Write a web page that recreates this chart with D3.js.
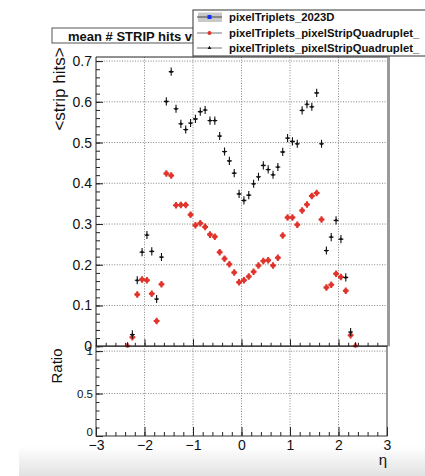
<!DOCTYPE html>
<html>
<head>
<meta charset="utf-8">
<script src="https://cdn.jsdelivr.net/npm/d3@7"></script>
<style>
  body { margin: 0; background: #fff; }
  svg { display: block; }
  text { font-family: "Liberation Sans", Arial, Helvetica, sans-serif; fill: #111; }
</style>
</head>
<body>
<svg id="chart" width="425" height="476"></svg>
<script>
// eta bin centres (bin width 0.1)
const etaBins = [-2.35, -2.25, -2.15, -2.05, -1.95, -1.85, -1.75, -1.65, -1.55, -1.45,
  -1.35, -1.25, -1.15, -1.05, -0.95, -0.85, -0.75, -0.65, -0.55, -0.45,
  -0.35, -0.25, -0.15, -0.05, 0.05, 0.15, 0.25, 0.35, 0.45, 0.55,
  0.65, 0.75, 0.85, 0.95, 1.05, 1.15, 1.25, 1.35, 1.45, 1.55,
  1.65, 1.75, 1.85, 1.95, 2.05, 2.15, 2.25, 2.35];

// mean number of strip hits per bin (red series)
const quadRed = [0.0, 0.022, 0.127, 0.164, 0.162, 0.129, 0.062, 0.152, 0.424, 0.419,
  0.346, 0.347, 0.347, 0.323, 0.297, 0.302, 0.293, 0.274, 0.269, 0.231,
  0.215, 0.201, 0.181, 0.157, 0.162, 0.171, 0.183, 0.198, 0.209, 0.211,
  0.198, 0.217, 0.272, 0.316, 0.316, 0.298, 0.333, 0.348, 0.369, 0.376,
  0.311, 0.144, 0.151, 0.178, 0.170, 0.136, 0.027, 0.0];

// mean number of strip hits per bin (black series)
const quadBlack = [0.0, 0.029, 0.162, 0.231, 0.273, 0.233, 0.116, 0.219, 0.601, 0.674,
  0.583, 0.546, 0.532, 0.548, 0.558, 0.576, 0.580, 0.554, 0.554, 0.516,
  0.478, 0.455, 0.425, 0.374, 0.358, 0.371, 0.399, 0.416, 0.444, 0.434,
  0.421, 0.440, 0.477, 0.511, 0.503, 0.497, 0.579, 0.594, 0.588, 0.622,
  0.497, 0.235, 0.268, 0.309, 0.263, 0.169, 0.035, 0.0];

const redErr = 0.008;
const blackErr = 0.010;
const binHalfWidth = 0.05;

const legendLabels = ["pixelTriplets_2023D",
  "pixelTriplets_pixelStripQuadruplet_",
  "pixelTriplets_pixelStripQuadruplet_"];
const titleText = "mean # STRIP hits vs \u03b7";
const xTicks = [-3, -2, -1, 0, 1, 2, 3];
const xTickLabels = ["\u22123", "\u22122", "\u22121", "0", "1", "2", "3"];
const yTicksTop = [0, 0.1, 0.2, 0.3, 0.4, 0.5, 0.6, 0.7];
const yTickLabelsTop = ["0", "0.1", "0.2", "0.3", "0.4", "0.5", "0.6", "0.7"];
const yTicksRatio = [0, 0.5, 1];
const yTickLabelsRatio = ["0", "0.5", "1"];

const svg = d3.select("#chart");
const L = 96, R = 387;
const topY0 = 57, topY1 = 346.25, ratY0 = 346, ratY1 = 436;

const x = d3.scaleLinear().domain([-3, 3]).range([L, R]);
const yTop = d3.scaleLinear().domain([0, 0.71]).range([topY1, topY0]);
const yRat = d3.scaleLinear().domain([0, 1.06]).range([ratY1, ratY0]);

const xMinor = d3.range(-3, 3.001, 0.2).map(v => +v.toFixed(2));
const yMinorTop = d3.range(0, 0.711, 0.02).map(v => +v.toFixed(3));
const yMinorRat = d3.range(0, 1.061, 0.1).map(v => +v.toFixed(2));

// bottom grey band
const defs = svg.append("defs");
const grad = defs.append("linearGradient").attr("id", "band").attr("x1", 0).attr("x2", 0).attr("y1", 0).attr("y2", 1);
grad.append("stop").attr("offset", "0%").attr("stop-color", "#ffffff");
grad.append("stop").attr("offset", "100%").attr("stop-color", "#e2e2e2");
svg.append("rect").attr("x", 19).attr("y", 446).attr("width", 406).attr("height", 30).attr("fill", "url(#band)");

defs.append("clipPath").attr("id", "clipTop").append("rect")
  .attr("x", L).attr("y", topY0).attr("width", R - L).attr("height", topY1 - topY0 + 1);

function grid(g, xs, ys, yScale, yA, yB) {
  g.selectAll(".gv").data(xs).join("line")
    .attr("x1", d => x(d)).attr("x2", d => x(d)).attr("y1", yA).attr("y2", yB)
    .attr("stroke", "#777").attr("stroke-width", 0.9).attr("stroke-dasharray", "1,1.6");
  g.selectAll(".gh").data(ys).join("line")
    .attr("x1", L).attr("x2", R).attr("y1", d => yScale(d)).attr("y2", d => yScale(d))
    .attr("stroke", "#777").attr("stroke-width", 0.9).attr("stroke-dasharray", "1,1.6");
}

function styleAxis(g) {
  g.select(".domain").remove();
  g.selectAll(".tick line").attr("stroke", "#222").attr("stroke-width", 1);
}

// ---------- upper pad ----------
const topPad = svg.append("g");
grid(topPad.append("g"), [-2, -1, 0, 1, 2], [0.1, 0.2, 0.3, 0.4, 0.5, 0.6, 0.7], yTop, topY0, topY1);

topPad.append("g").attr("transform", `translate(0,${topY1})`)
  .call(d3.axisBottom(x).tickValues(xMinor).tickSize(-3.5).tickFormat("")).call(styleAxis);
topPad.append("g").attr("transform", `translate(0,${topY1})`)
  .call(d3.axisBottom(x).tickValues(xTicks).tickSize(-7).tickFormat("")).call(styleAxis);
topPad.append("g").attr("transform", `translate(${L},0)`)
  .call(d3.axisLeft(yTop).tickValues(yMinorTop).tickSize(-4).tickFormat("")).call(styleAxis);
const yAxTop = topPad.append("g").attr("transform", `translate(${L},0)`)
  .call(d3.axisLeft(yTop).tickValues(yTicksTop).tickSize(-7)
    .tickFormat((d, i) => yTickLabelsTop[i]))
  .call(styleAxis);
yAxTop.selectAll(".tick text").attr("x", -4).attr("font-size", 14).attr("fill", "#111")
  .attr("font-family", "Liberation Sans, Arial, sans-serif");

// frame
topPad.append("line").attr("x1", L).attr("x2", R).attr("y1", topY0).attr("y2", topY0).attr("stroke", "#222");
topPad.append("line").attr("x1", L).attr("x2", L).attr("y1", topY0).attr("y2", topY1).attr("stroke", "#222");
topPad.append("line").attr("x1", L).attr("x2", R).attr("y1", topY1).attr("y2", topY1).attr("stroke", "#222");
topPad.append("line").attr("x1", R + 1.5).attr("x2", R + 1.5).attr("y1", topY0 - 1).attr("y2", topY1)
  .attr("stroke", "#9a9a9a").attr("stroke-width", 3);

// data
const plot = topPad.append("g").attr("clip-path", "url(#clipTop)");
const redPts = etaBins.map((e, i) => ({ e, v: quadRed[i] }));
const blackPts = etaBins.map((e, i) => ({ e, v: quadBlack[i] }));

const gRed = plot.append("g");
gRed.selectAll(".eh").data(redPts).join("line")
  .attr("x1", d => x(d.e - binHalfWidth) - 0.5).attr("x2", d => x(d.e + binHalfWidth) + 0.5)
  .attr("y1", d => yTop(d.v)).attr("y2", d => yTop(d.v))
  .attr("stroke", "#e0342c").attr("stroke-width", 2);
gRed.selectAll(".ev").data(redPts).join("line")
  .attr("x1", d => x(d.e)).attr("x2", d => x(d.e))
  .attr("y1", d => yTop(d.v - redErr)).attr("y2", d => yTop(d.v + redErr))
  .attr("stroke", "#e0342c").attr("stroke-width", 2);
gRed.selectAll("circle").data(redPts).join("circle")
  .attr("cx", d => x(d.e)).attr("cy", d => yTop(d.v)).attr("r", 2.3).attr("fill", "#e0342c");

const gBlack = plot.append("g");
gBlack.selectAll(".eh").data(blackPts).join("line")
  .attr("x1", d => x(d.e - binHalfWidth)).attr("x2", d => x(d.e + binHalfWidth))
  .attr("y1", d => yTop(d.v)).attr("y2", d => yTop(d.v))
  .attr("stroke", "#111").attr("stroke-width", 1.1);
gBlack.selectAll(".ev").data(blackPts).join("line")
  .attr("x1", d => x(d.e)).attr("x2", d => x(d.e))
  .attr("y1", d => yTop(d.v - blackErr)).attr("y2", d => yTop(d.v + blackErr))
  .attr("stroke", "#111").attr("stroke-width", 1.1);
gBlack.selectAll("path").data(blackPts).join("path")
  .attr("transform", d => `translate(${x(d.e)},${yTop(d.v)})`)
  .attr("d", d3.symbol(d3.symbolTriangle, 5)).attr("fill", "#111");

// axis title
svg.append("text").attr("transform", "translate(65,89) rotate(-90)")
  .attr("text-anchor", "middle").attr("font-size", 17).text("<strip hits>");

// ---------- ratio pad ----------
const ratPad = svg.append("g");
grid(ratPad.append("g"), [-2, -1, 0, 1, 2], [0.5, 1], yRat, ratY0, ratY1);
ratPad.append("g").attr("transform", `translate(0,${ratY1})`)
  .call(d3.axisBottom(x).tickValues(xMinor).tickSize(-4).tickFormat("")).call(styleAxis);
const xAx = ratPad.append("g").attr("transform", `translate(0,${ratY1})`)
  .call(d3.axisBottom(x).tickValues(xTicks).tickSize(-9).tickPadding(0)
    .tickFormat((d, i) => xTickLabels[i]))
  .call(styleAxis);
xAx.selectAll(".tick text").attr("y", 4).attr("dy", "0.71em").attr("font-size", 14).attr("fill", "#111")
  .attr("font-family", "Liberation Sans, Arial, sans-serif");
ratPad.append("g").attr("transform", `translate(${L},0)`)
  .call(d3.axisLeft(yRat).tickValues(yMinorRat).tickSize(-3.5).tickFormat("")).call(styleAxis);
const yAxRat = ratPad.append("g").attr("transform", `translate(${L},0)`)
  .call(d3.axisLeft(yRat).tickValues(yTicksRatio).tickSize(-7)
    .tickFormat((d, i) => yTickLabelsRatio[i]))
  .call(styleAxis);
yAxRat.selectAll(".tick text").attr("x", -3).attr("font-size", 11.5).attr("fill", "#111")
  .attr("font-family", "Liberation Sans, Arial, sans-serif");
yAxRat.selectAll(".tick text").filter(d => d === 0).attr("dy", "-0.05em");

ratPad.append("rect").attr("x", L).attr("y", ratY0).attr("width", R - L).attr("height", ratY1 - ratY0)
  .attr("fill", "none").attr("stroke", "#333").attr("stroke-width", 1);

svg.append("text").attr("transform", "translate(62,366) rotate(-90)")
  .attr("text-anchor", "middle").attr("font-size", 15).text("Ratio");
svg.append("text").attr("x", R).attr("y", 465).attr("text-anchor", "end")
  .attr("font-size", 15).text("\u03b7");

// ---------- title ----------
svg.append("rect").attr("x", 52).attr("y", 28).attr("width", 250).attr("height", 15)
  .attr("fill", "#fff").attr("stroke", "#555").attr("stroke-width", 1);
svg.append("text").attr("x", 68).attr("y", 40.5).attr("font-size", 13).attr("font-weight", "bold")
  .text(titleText);

// ---------- legend ----------
const leg = svg.append("g");
leg.append("rect").attr("x", 193).attr("y", 10).attr("width", 240).attr("height", 46)
  .attr("fill", "#fff").attr("stroke", "#333").attr("stroke-width", 1);
const rowsY = [17, 33, 48];
leg.append("rect").attr("x", 198).attr("y", rowsY[0] - 4.5).attr("width", 24).attr("height", 9.5)
  .attr("fill", "#c9c9c9");
leg.selectAll(".ll").data(rowsY).join("line")
  .attr("x1", 197).attr("x2", 222).attr("y1", d => d).attr("y2", d => d)
  .attr("stroke", (d, i) => i === 0 ? "#444" : "#777").attr("stroke-width", 1);
leg.append("rect").attr("x", 207.5).attr("y", rowsY[0] - 2).attr("width", 4).attr("height", 4).attr("fill", "#1030ff");
leg.append("circle").attr("cx", 209.5).attr("cy", rowsY[1]).attr("r", 2).attr("fill", "#e0342c");
leg.append("path").attr("transform", `translate(209.5,${rowsY[2]})`)
  .attr("d", d3.symbol(d3.symbolTriangle, 6)).attr("fill", "#111");
leg.selectAll(".lt").data(legendLabels).join("text")
  .attr("x", 229).attr("y", (d, i) => rowsY[i] + 4)
  .attr("font-size", 11.3).attr("font-weight", "bold").text(d => d);
</script>
</body>
</html>
